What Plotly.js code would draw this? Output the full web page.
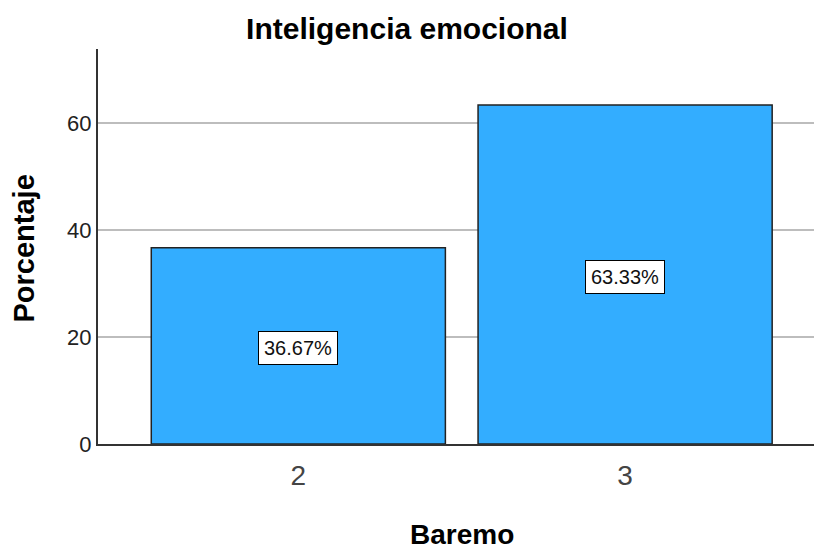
<!DOCTYPE html>
<html>
<head>
<meta charset="utf-8">
<script src="https://cdn.plot.ly/plotly-3.0.1.min.js"></script>
<style>html,body{margin:0;padding:0;background:#fff;}#chart{width:814px;height:550px;}</style>
</head>
<body>
<div id="chart"></div>
<script>
const categories = ["2", "3"];
const percentages = [36.67, 63.33];
const barLabels = ["36.67%", "63.33%"];
const yTicks = [0, 20, 40, 60];

const FONT = 'Liberation Sans, Arial, sans-serif';

const trace = {
  type: 'bar',
  x: categories,
  y: percentages,
  width: 0.9,
  marker: {color: '#33adff', line: {color: '#222222', width: 1.5}},
  hoverinfo: 'skip'
};

const annotations = categories.map((c, i) => ({
  x: i, y: percentages[i] / 2, xref: 'x', yref: 'y',
  text: barLabels[i], showarrow: false,
  font: {family: FONT, size: 20, color: '#111'},
  bgcolor: '#ffffff', bordercolor: '#000000', borderwidth: 1, borderpad: 5,
  yshift: -2
}));

annotations.push({
  text: '<b>Baremo</b>', showarrow: false,
  xref: 'paper', yref: 'paper', x: 0.5, y: 0, xshift: 6, yshift: -90,
  xanchor: 'center', yanchor: 'middle', borderpad: 0,
  font: {family: FONT, size: 28, color: '#000'}
});
annotations.push({
  text: '<b>Porcentaje</b>', showarrow: false, textangle: -90,
  xref: 'paper', yref: 'paper', x: 0, y: 0.5, xshift: -75, yshift: -2,
  xanchor: 'center', yanchor: 'middle', borderpad: 0,
  font: {family: FONT, size: 29, color: '#000'}
});

const layout = {
  width: 814, height: 550,
  margin: {l: 98, r: 0, t: 49, b: 106},
  paper_bgcolor: '#fff', plot_bgcolor: '#fff',
  showlegend: false,
  title: {
    text: '<b>Inteligencia emocional</b>',
    font: {family: FONT, size: 30, color: '#000'},
    x: 0.5, xref: 'container', xanchor: 'center',
    y: 1 - 28/550, yref: 'container', yanchor: 'middle'
  },
  xaxis: {
    type: 'category',
    range: [-0.613, 1.578],
    showgrid: false, zeroline: false,
    showline: true, linecolor: '#333', linewidth: 2,
    ticks: '', ticklabelstandoff: 5,
    tickfont: {family: FONT, size: 28, color: '#444'}
  },
  yaxis: {
    range: [0, 73.8],
    tickvals: yTicks,
    showgrid: true, gridcolor: '#bdbdbd', gridwidth: 1.5,
    zeroline: false,
    showline: true, linecolor: '#333', linewidth: 2,
    ticks: '', ticklabelstandoff: 0,
    tickfont: {family: FONT, size: 22, color: '#222'}
  },
  annotations: annotations
};

Plotly.newPlot('chart', [trace], layout, {displayModeBar: false, staticPlot: true});
</script>
</body>
</html>
